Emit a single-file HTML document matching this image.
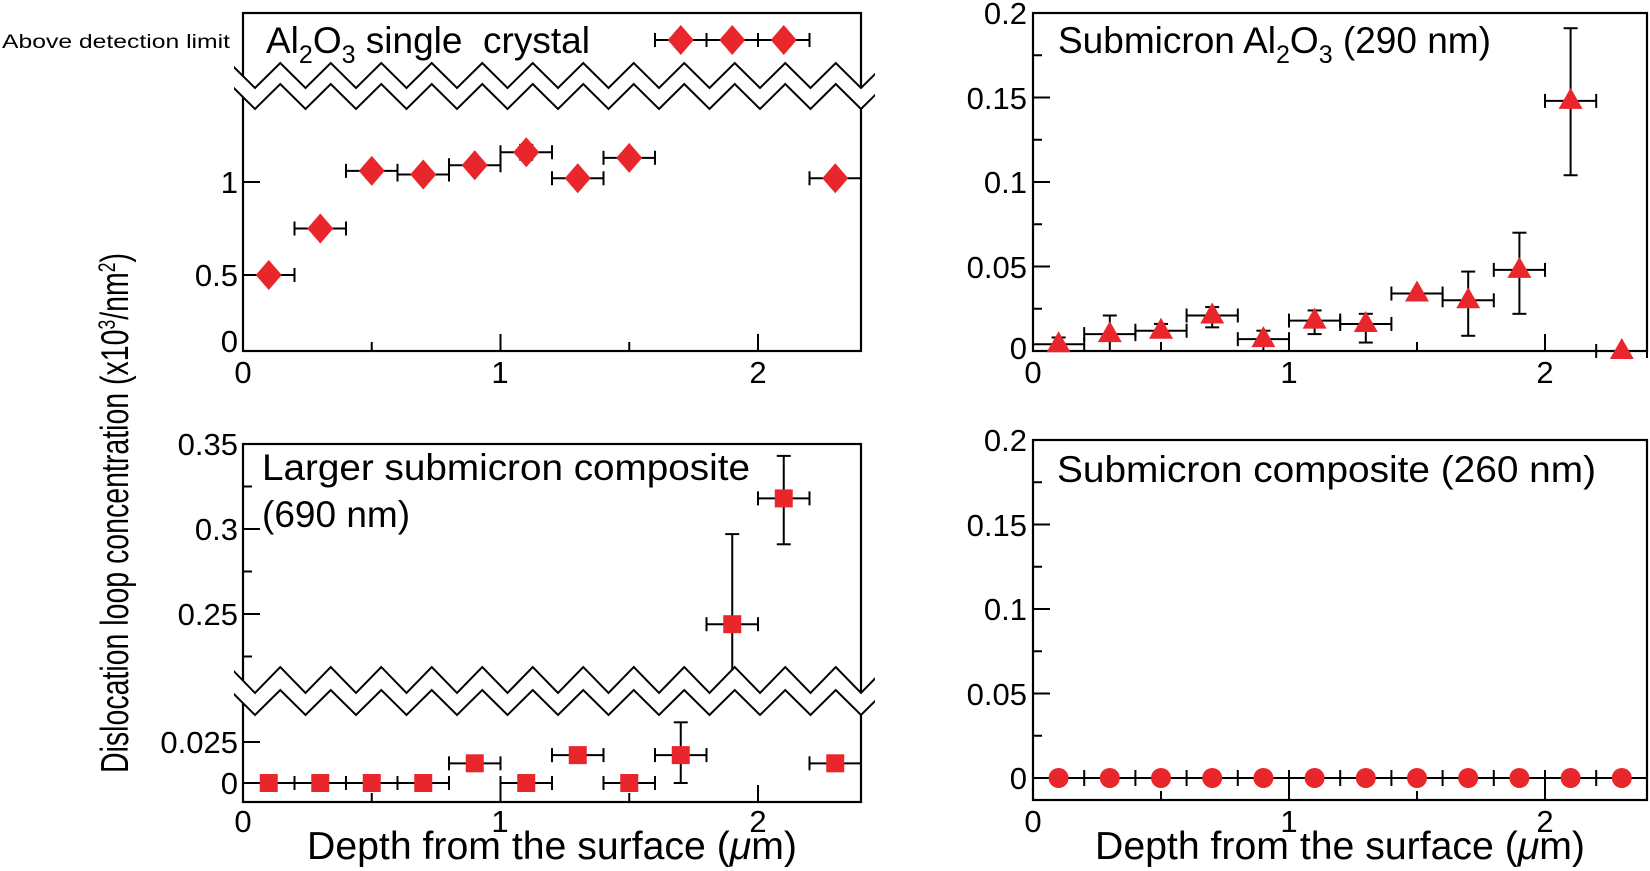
<!DOCTYPE html>
<html><head><meta charset="utf-8"><style>
html,body{margin:0;padding:0;background:#fff;}
svg{display:block;font-family:"Liberation Sans",Arial,sans-serif;}
</style></head><body>
<svg id="s" width="1650" height="871" viewBox="0 0 1650 871" xmlns="http://www.w3.org/2000/svg">
<defs><clipPath id="c1"><rect x="234" y="0" width="641" height="871"/></clipPath></defs>
<g id="g"></g>
<g font-size="31" fill="#000">
<text x="238" y="193" text-anchor="end">1</text>
<text x="238" y="286" text-anchor="end">0.5</text>
<text x="238" y="352" text-anchor="end">0</text>
<text x="2" y="48" font-size="19" textLength="228" lengthAdjust="spacingAndGlyphs">Above detection  limit</text>
<text x="243" y="383" text-anchor="middle">0</text>
<text x="500" y="383" text-anchor="middle">1</text>
<text x="758" y="383" text-anchor="middle">2</text>
<text x="238" y="455" text-anchor="end">0.35</text>
<text x="238" y="540" text-anchor="end">0.3</text>
<text x="238" y="625" text-anchor="end">0.25</text>
<text x="238" y="753" text-anchor="end">0.025</text>
<text x="238" y="794" text-anchor="end">0</text>
<text x="243" y="832" text-anchor="middle">0</text>
<text x="500" y="832" text-anchor="middle">1</text>
<text x="758" y="832" text-anchor="middle">2</text>
<text x="1027" y="24" text-anchor="end">0.2</text>
<text x="1027" y="109" text-anchor="end">0.15</text>
<text x="1027" y="193" text-anchor="end">0.1</text>
<text x="1027" y="278" text-anchor="end">0.05</text>
<text x="1027" y="359" text-anchor="end">0</text>
<text x="1033" y="383" text-anchor="middle">0</text>
<text x="1289" y="383" text-anchor="middle">1</text>
<text x="1545" y="383" text-anchor="middle">2</text>
<text x="1027" y="451" text-anchor="end">0.2</text>
<text x="1027" y="536" text-anchor="end">0.15</text>
<text x="1027" y="620" text-anchor="end">0.1</text>
<text x="1027" y="705" text-anchor="end">0.05</text>
<text x="1027" y="789" text-anchor="end">0</text>
<text x="1033" y="832" text-anchor="middle">0</text>
<text x="1289" y="832" text-anchor="middle">1</text>
<text x="1545" y="832" text-anchor="middle">2</text>
</g>
<g font-size="37" fill="#000">
<text x="266" y="53">Al<tspan font-size="25" dy="10">2</tspan><tspan dy="-10">O</tspan><tspan font-size="25" dy="10">3</tspan><tspan dy="-10">&#160;single&#160;&#160;crystal</tspan></text>
<text x="1058" y="53">Submicron Al<tspan font-size="25" dy="10">2</tspan><tspan dy="-10">O</tspan><tspan font-size="25" dy="10">3</tspan><tspan dy="-10">&#160;(290 nm)</tspan></text>
<text x="262" y="480" textLength="488" lengthAdjust="spacingAndGlyphs">Larger submicron composite</text>
<text x="262" y="527">(690 nm)</text>
<text x="1057" y="482" textLength="539" lengthAdjust="spacingAndGlyphs">Submicron composite (260 nm)</text>
<text x="552" y="859" text-anchor="middle" font-size="39" textLength="490" lengthAdjust="spacingAndGlyphs">Depth from the surface (<tspan font-style="italic">μ</tspan>m)</text>
<text x="1340" y="859" text-anchor="middle" font-size="39" textLength="490" lengthAdjust="spacingAndGlyphs">Depth from the surface (<tspan font-style="italic">μ</tspan>m)</text>
<text transform="translate(128,513) rotate(-90)" text-anchor="middle" font-size="39" textLength="520" lengthAdjust="spacingAndGlyphs">Dislocation loop concentration (x10<tspan font-size="24" dy="-13">3</tspan><tspan dy="13">/nm</tspan><tspan font-size="24" dy="-13">2</tspan><tspan dy="13">)</tspan></text>
</g>
</svg>
<script>
var NS="http://www.w3.org/2000/svg",G=document.getElementById("g"),RED="#e8262b";
function el(t,a,par){var e=document.createElementNS(NS,t);for(var k in a)e.setAttribute(k,a[k]);(par||G).appendChild(e);return e;}
function ln(x1,y1,x2,y2,w){el("line",{x1:x1,y1:y1,x2:x2,y2:y2,stroke:"#000","stroke-width":w||2});}
function box(l,t,r,b){el("rect",{x:l,y:t,width:r-l,height:b-t,fill:"none",stroke:"#000","stroke-width":2.2});}
function zig(x0,x1,xv,yt,yb,p){var pts=[],x=xv-Math.ceil((xv-x0)/p)*p;var i=0;
 for(;x<=x1+p;x+=p/2,i++){pts.push([x,(i%2==0)?yb:yt]);}return pts;}
function brk(x0,x1,xv,a,b,c,d,p){var z1=zig(x0,x1,xv,a,b,p),z2=zig(x0,x1,xv,c,d,p);
 var cg=el("g",{"clip-path":"url(#c1)"});
 var poly=z1.concat(z2.slice().reverse());
 el("polygon",{points:poly.map(function(q){return q.join(",")}).join(" "),fill:"#fff",stroke:"none"},cg);
 [z1,z2].forEach(function(z){el("polyline",{points:z.map(function(q){return q.join(",")}).join(" "),fill:"none",stroke:"#000","stroke-width":2},cg);});}
function hbar(x1,x2,y){ln(x1,y,x2,y);ln(x1,y-7,x1,y+7);ln(x2,y-7,x2,y+7);}
function vbar(x,y1,y2){ln(x,y1,x,y2);ln(x-7,y1,x+7,y1);ln(x-7,y2,x+7,y2);}
function dia(x,y){el("polygon",{points:[x,y-15,x+13,y,x,y+15,x-13,y].join(" "),fill:RED});}
function sq(x,y){el("rect",{x:x-9,y:y-9,width:18,height:18,fill:RED});}
function tri(x,y){el("polygon",{points:[x,y-13,x+12,y+8,x-12,y+8].join(" "),fill:RED});}
function circ(x,y){el("ellipse",{cx:x,cy:y,rx:10,ry:10,fill:RED});}

var L=243,X=257.5;function xa(v){return L+X*v;}
box(243,13,861,351);
[[0.5,9],[1,17],[1.5,9],[2,17]].forEach(function(t){ln(xa(t[0]),351,xa(t[0]),351-t[1]);});
function ya(v){return 368-186*v;}
ln(243,182,260,182);ln(243,275,260,275);
brk(234,875,255,63,88,84,109,50.5);
var d1=[[0.1,0.5],[0.3,0.75],[0.5,1.06,0.03],[0.7,1.04,0.03],[0.9,1.09,0.03],[1.1,1.16,0.04],[1.3,1.02,0.03],[1.5,1.13,0.03],[2.3,1.02]];
d1.forEach(function(p){var x=xa(p[0]),y=ya(p[1]);hbar(xa(p[0]-0.1),xa(p[0]+0.1),y);if(p[2])vbar(x,ya(p[1]+p[2]),ya(p[1]-p[2]));});
hbar(xa(1.6),xa(2.2),40);ln(xa(1.8),33,xa(1.8),47);ln(xa(2.0),33,xa(2.0),47);
d1.forEach(function(p){dia(xa(p[0]),ya(p[1]));});
[1.7,1.9,2.1].forEach(function(v){dia(xa(v),40);});

box(243,444,861,802);
[[0.5,9],[1,17],[1.5,9],[2,17]].forEach(function(t){ln(xa(t[0]),802,xa(t[0]),802-t[1]);});
function yu(v){return 529-(v-0.3)*1700;}function yl(v){return 783-1640*v;}
[[0.35,17],[0.325,9],[0.3,17],[0.275,9],[0.25,17],[0.225,9]].forEach(function(t){ln(243,yu(t[0]),243+t[1],yu(t[0]));});
ln(243,yl(0.025),260,yl(0.025));
hbar(xa(1.8),xa(2.0),yu(0.244));ln(xa(1.9),yu(0.297),xa(1.9),692);ln(xa(1.9)-7,yu(0.297),xa(1.9)+7,yu(0.297));
hbar(xa(2.0),xa(2.2),yu(0.318));vbar(xa(2.1),yu(0.343),yu(0.291));
brk(234,875,255,667,693,690,715,50.5);
var d2=[[0.1,0],[0.3,0],[0.5,0],[0.7,0],[0.9,0.012],[1.1,0],[1.3,0.017],[1.5,0],[1.7,0.017,0.037,0],[2.3,0.012]];
d2.forEach(function(p){hbar(xa(p[0]-0.1),xa(p[0]+0.1),yl(p[1]));if(p.length>2)vbar(xa(p[0]),yl(p[2]),yl(p[3]));});
sq(xa(1.9),yu(0.244));sq(xa(2.1),yu(0.318));
d2.forEach(function(p){sq(xa(p[0]),yl(p[1]));});

var R=1033,XR=256;function xr(v){return R+XR*v;}
box(1033,13,1647,351);
[[0.5,9],[1,17],[1.5,9],[2,17]].forEach(function(t){ln(xr(t[0]),351,xr(t[0]),351-t[1]);});
function yr(v){return 351-1690*v;}
for(var k=1;k<8;k++){var v=k*0.025;ln(1033,yr(v),1033+(k%2?9:17),yr(v));}
var d3=[[0.1,0.004,0.008,0],[0.3,0.01,0.021,0],[0.5,0.012,0.016,0.009],[0.7,0.021,0.026,0.014],[0.9,0.007,0.012,0],[1.1,0.018,0.024,0.01],[1.3,0.016,0.022,0.005],[1.5,0.034,0.035,0.033],[1.7,0.03,0.047,0.009],[1.9,0.048,0.07,0.022],[2.1,0.148,0.191,0.104],[2.3,0,0,0]];
d3.forEach(function(p){hbar(xr(p[0]-0.1),Math.min(xr(p[0]+0.1),1647),yr(p[1]));if(p[2]-p[3]>0.003)vbar(xr(p[0]),yr(p[2]),yr(p[3]));});
d3.forEach(function(p){tri(xr(p[0]),yr(p[1]));});

box(1033,440,1647,800);
[[0.5,9],[1,17],[1.5,9],[2,17]].forEach(function(t){ln(xr(t[0]),800,xr(t[0]),800-t[1]);});
function yb(v){return 778-1690*v;}
for(var k=1;k<8;k++){var v=k*0.025;ln(1033,yb(v),1033+(k%2?9:17),yb(v));}
ln(1033,778,1647,778);
for(var k=0;k<=12;k++){var xx=xr(0.2*k);if(k>0&&k<12)ln(xx,770,xx,786);}
for(var k=0;k<12;k++)circ(xr(0.1+0.2*k),778);
</script>
</body></html>
